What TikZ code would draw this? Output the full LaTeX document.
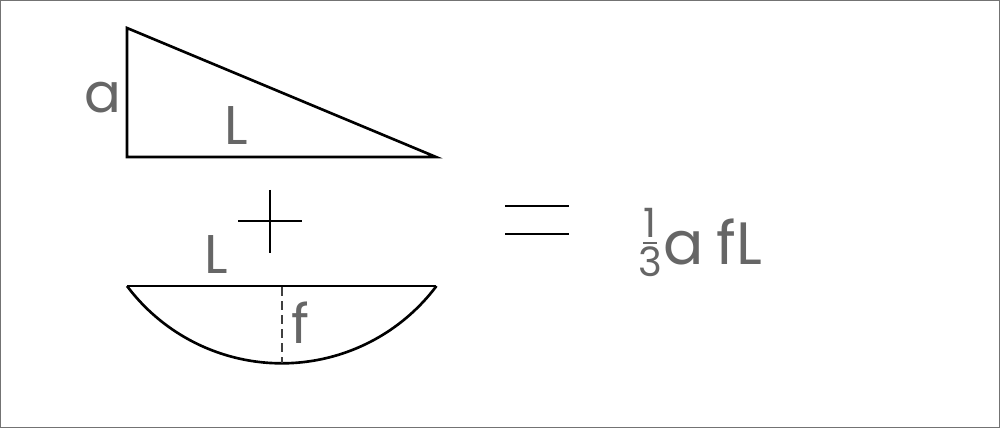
\documentclass[tikz,border=0pt]{standalone}
\usepackage{fontspec}
\setmainfont{Poppins}
\tikzset{
  shp/.style={line width=1.5pt, line join=miter},
  lbl/.style={inner sep=0pt, text=black!60, font=\fontsize{31}{37}\selectfont},
  big/.style={lbl, font=\fontsize{34}{40}\selectfont},
  dig/.style={lbl, font=\fontsize{23}{27}\selectfont}
}

\begin{document}
\begin{tikzpicture}[x=0.02cm, y=-0.02cm]
    \useasboundingbox (0,0) rectangle (1000,428);
    \draw[black!55, line width=0.8pt] (0.6,0.6) rectangle (999.4,427.4);

        \draw[shp] (127,28) -- (127,157) -- (436,157) -- cycle;
        \node (a) [lbl, anchor=base] at (103,113) {a};
        \node (l1) [lbl, anchor=base] at (236,145) {L};

        \draw[shp] (238,221) -- (302,221);
        \draw[shp] (270,190) -- (270,253);

        \node (l2) [lbl, anchor=base] at (216,274) {L};
        \draw[shp] (127,286) -- (436,286);
        \draw[shp] (127,286) arc[start angle=143.1, end angle=36.9, radius=193.5];
        \draw[black!75, line width=0.9pt, dash pattern=on 5pt off 3pt] (282,287) -- (282,363);
        \node (f) [lbl, anchor=base] at (300,344) {f};

        \draw[shp] (505,206) -- (569,206);
        \draw[shp] (505,234) -- (569,234);

    \node (one) [dig, anchor=base] at (650,238) {1};
    \node (three) [dig, anchor=base] at (650,277) {3};
        \draw[black!60, line width=0.8pt] (643,243) -- (657,243);
    \node (a2) [big, anchor=base] at (684,265) {a};
    \node (f2) [big, anchor=base] at (726,265) {f};
    \node (l3) [big, anchor=base] at (749,265) {L};

\end{tikzpicture}
\end{document}
